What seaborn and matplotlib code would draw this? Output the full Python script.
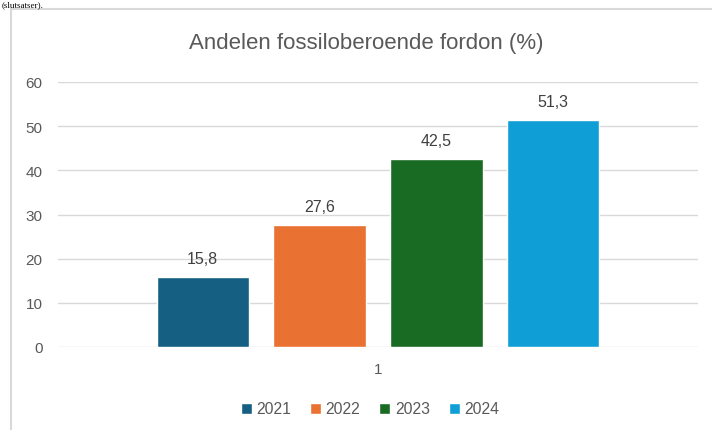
import matplotlib
matplotlib.use("Agg")
import matplotlib.pyplot as plt
import pandas as pd
import seaborn as sns
from matplotlib import font_manager
from matplotlib.patches import Rectangle

'''Data'''
years = ["2021", "2022", "2023", "2024"]
values = [15.8, 27.6, 42.5, 51.3]
category = ["1", "1", "1", "1"]
colors = ["#156082", "#E97132", "#196B24", "#0F9ED5"]
yticks = [0, 10, 20, 30, 40, 50, 60]

df = pd.DataFrame({"kategori": category, "år": years, "andel": values})

sns.set_theme(style="white")
plt.rcParams['font.family'] = ['Liberation Sans', 'DejaVu Sans']

names = {f.name for f in font_manager.fontManager.ttflist}
title_font = 'Liberation Sans Narrow' if 'Liberation Sans Narrow' in names else 'Liberation Sans'

fig = plt.figure(figsize=(7.12, 4.31), dpi=100)
ax = fig.add_axes([58 / 712, 83 / 431, 640 / 712, 265 / 431])

sns.barplot(data=df, x="kategori", y="andel", hue="år", palette=colors,
            width=0.73, gap=0.21, ax=ax, legend=True, saturation=1)

for cont in ax.containers:
    ax.bar_label(cont, labels=[f"{v:.1f}".replace(".", ",") for v in cont.datavalues],
                 padding=8, fontsize=11.5, color="#404040")

ax.set_ylim(0, 60)
ax.set_xlim(-0.5, 0.5)
ax.set_yticks(yticks)
ax.yaxis.grid(True, color="#d9d9d9", linewidth=1)
ax.set_axisbelow(True)
for s in ax.spines.values():
    s.set_visible(False)
ax.set_xlabel("")
ax.set_ylabel("")
ax.tick_params(axis='both', length=0, labelsize=11, colors="#595959")
ax.tick_params(axis='y', pad=11)
ax.tick_params(axis='x', pad=11)

ax.legend(loc="center", bbox_to_anchor=(370 / 712, 21 / 431), bbox_transform=fig.transFigure,
          ncol=4, frameon=False, fontsize=11.3, handlelength=0.7, handleheight=0.7,
          handletextpad=0.3, columnspacing=1.2, labelcolor="#595959")

fig.text(366 / 712, (431 - 44) / 431, "Andelen fossiloberoende fordon (%)",
         ha="center", va="center", fontsize=16, color="#595959", family=title_font)

# chart frame and the document text just above it
fig.add_artist(Rectangle((11 / 712, -0.1), 1.0, (431 - 10) / 431 + 0.1,
                         transform=fig.transFigure, fill=False,
                         edgecolor="#d9d9d9", linewidth=1.5))
fig.text(2 / 712, 1.0 - 1 / 431, "(slutsatser).", ha="left", va="top",
         fontsize=6.5, color="black", family=["Liberation Serif"])

fig.savefig("out.png", dpi=100, facecolor="white")
